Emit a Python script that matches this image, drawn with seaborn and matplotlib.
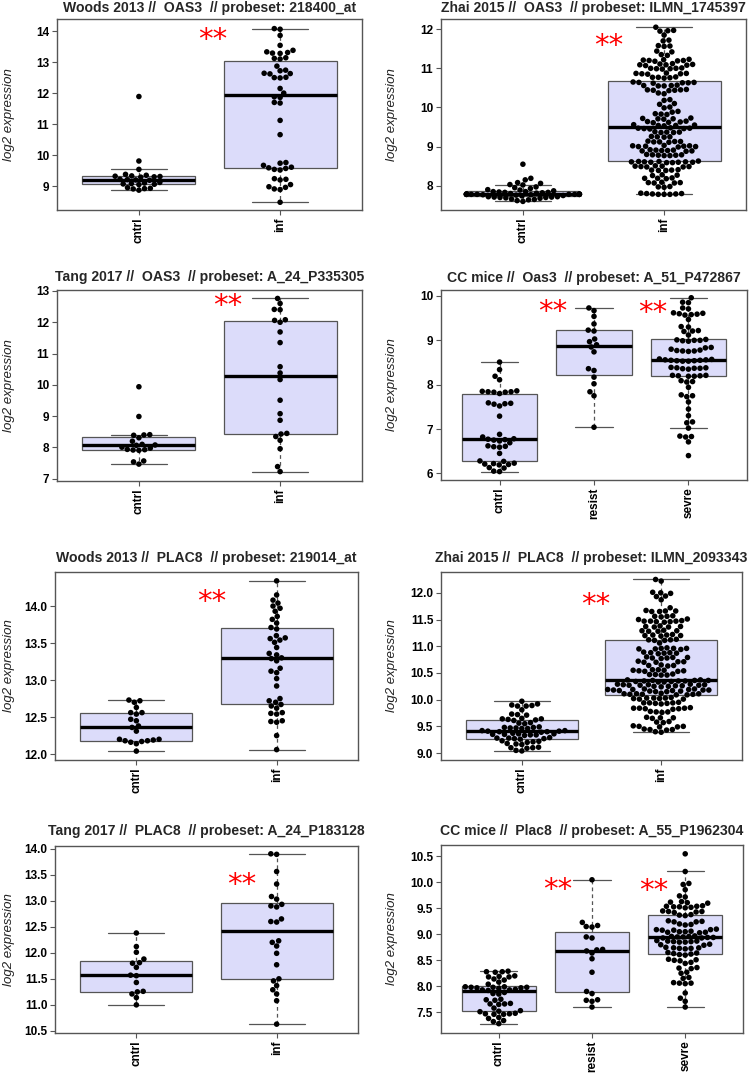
import pandas as pd
import seaborn as sns
import matplotlib.pyplot as plt

# ---- data (log2 expression) ----
woods_oas3_cntrl = [11.89, 9.81, 9.54, 9.38, 9.35, 9.33, 9.32, 9.31, 9.30, 9.29, 9.22, 9.21, 9.20,
                    9.19, 9.12, 9.10, 9.08, 9.07, 9.06, 9.05, 8.95, 8.93, 8.92, 8.91, 8.87]
woods_oas3_inf = [14.08, 14.06, 13.86, 13.54, 13.38, 13.33, 13.31, 13.29, 13.28, 13.14, 13.12, 13.10,
                  12.87, 12.74, 12.72, 12.64, 12.63, 12.62, 12.51, 12.50, 12.49, 12.15, 12.00, 11.88,
                  11.86, 11.70, 11.68, 11.12, 10.66, 9.76, 9.74, 9.67, 9.61, 9.59, 9.57, 9.54, 9.52,
                  9.24, 9.22, 9.20, 9.05, 8.98, 8.96, 8.91, 8.89, 8.48]

zhai_oas3_cntrl = [8.55, 8.19, 8.15, 8.08, 8.06, 8.03, 8.02, 7.97, 7.95, 7.93, 7.90, 7.89, 7.87,
                   7.85, 7.85, 7.84, 7.83, 7.83, 7.82, 7.81, 7.80, 7.79, 7.79,
                   7.78, 7.78, 7.78, 7.78, 7.78, 7.78, 7.78, 7.78, 7.78, 7.78,
                   7.77, 7.77, 7.76, 7.75, 7.74,
                   7.72, 7.72, 7.71, 7.71, 7.70, 7.70, 7.69, 7.68, 7.66, 7.65, 7.64, 7.62, 7.60]
zhai_oas3_inf = [12.05, 11.97, 11.96, 11.95, 11.85, 11.72, 11.70, 11.58, 11.57, 11.56, 11.44, 11.42,
                 11.35, 11.33,
                 11.23, 11.22, 11.21, 11.20, 11.20, 11.19, 11.18,
                 11.12, 11.11, 11.10, 11.09, 11.09, 11.08, 11.07,
                 11.01, 11.00, 11.00, 10.99, 10.99, 10.98,
                 10.88, 10.87, 10.87, 10.86, 10.86, 10.85,
                 10.78, 10.77, 10.77, 10.76, 10.75,
                 10.65, 10.64, 10.64, 10.63, 10.63, 10.62,
                 10.57, 10.56, 10.56, 10.55, 10.55,
                 10.46, 10.45, 10.45, 10.44, 10.44, 10.43,
                 10.37, 10.35, 10.20, 10.18,
                 10.10, 10.08, 10.01, 9.99,
                 9.90, 9.88, 9.84, 9.83, 9.82,
                 9.73, 9.72, 9.71, 9.71, 9.70,
                 9.65, 9.64, 9.63, 9.62, 9.61,
                 9.56, 9.55, 9.54, 9.54, 9.53,
                 9.48, 9.47, 9.47, 9.46, 9.46, 9.45,
                 9.38, 9.37, 9.37, 9.36, 9.36,
                 9.26, 9.25, 9.25, 9.24,
                 9.14, 9.13, 9.13, 9.12, 9.12, 9.11,
                 9.03, 9.02, 9.02, 9.01, 9.01, 9.00, 9.00, 8.99,
                 8.92, 8.91, 8.91, 8.90, 8.90, 8.89, 8.89, 8.88,
                 8.80, 8.79, 8.79, 8.78, 8.78, 8.77, 8.77,
                 8.63, 8.62, 8.62, 8.61, 8.61, 8.61, 8.60, 8.60, 8.60, 8.59, 8.59,
                 8.51, 8.50, 8.50, 8.49, 8.49, 8.48, 8.48,
                 8.41, 8.40, 8.40, 8.39, 8.39,
                 8.28, 8.27, 8.26, 8.20, 8.19, 8.19, 8.18,
                 8.09, 8.08, 8.08, 8.07, 8.07, 7.98, 7.97, 7.96,
                 7.81, 7.80, 7.80, 7.79, 7.79, 7.78, 7.78, 7.78]

tang_oas3_cntrl = [9.94, 8.99, 8.41, 8.40, 8.39, 8.31, 8.20, 8.10, 8.08, 8.07, 8.01, 7.98, 7.94,
                   7.93, 7.92, 7.91, 7.57, 7.54, 7.47]
tang_oas3_inf = [12.76, 12.60, 12.41, 12.40, 12.08, 12.06, 12.00, 11.69, 11.35, 10.58, 10.38, 10.17,
                 9.51, 9.08, 8.87, 8.45, 8.43, 8.35, 8.23, 7.96, 7.39, 7.23]

cc_oas3_cntrl = [8.51, 8.34, 8.19, 8.11, 7.86, 7.85, 7.84, 7.84, 7.83, 7.83, 7.80, 7.59, 7.58, 7.57,
                 7.56, 7.52, 7.29, 6.88, 6.82, 6.78, 6.77, 6.76, 6.75, 6.73, 6.69, 6.62, 6.61, 6.60,
                 6.59, 6.45, 6.28, 6.27, 6.23, 6.22, 6.21, 6.20, 6.19, 6.13, 6.12, 6.05, 6.04]
cc_oas3_resist = [9.73, 9.67, 9.54, 9.37, 9.23, 9.21, 9.03, 8.97, 8.90, 8.85, 8.74, 8.36, 8.32, 8.17,
                  8.02, 7.84, 7.75, 7.04]
cc_oas3_sevre = [9.96, 9.86, 9.85, 9.73, 9.71, 9.62, 9.61, 9.60, 9.59, 9.58, 9.57, 9.47, 9.31, 9.30,
                 9.22, 9.21, 9.20, 9.12, 9.02, 9.01, 9.00, 9.00, 8.99, 8.98,
                 8.84, 8.83, 8.80, 8.78, 8.77, 8.76, 8.76, 8.75,
                 8.58, 8.57, 8.56, 8.56, 8.55, 8.55, 8.54, 8.54, 8.53, 8.53,
                 8.39, 8.38, 8.38, 8.37, 8.37, 8.36, 8.35,
                 8.21, 8.21, 8.20, 8.20, 8.19, 8.19, 8.09, 8.07, 8.06, 7.94,
                 7.77, 7.75, 7.73, 7.61, 7.45, 7.30, 7.16, 7.14, 7.02,
                 6.84, 6.83, 6.82, 6.71, 6.40]

woods_plac8_cntrl = [12.73, 12.72, 12.70, 12.63, 12.56, 12.56, 12.54, 12.47, 12.45, 12.38, 12.36,
                     12.31, 12.20, 12.20, 12.19, 12.18, 12.18, 12.17, 12.16, 12.14, 12.04]
woods_plac8_inf = [14.34, 14.15, 14.08, 14.04, 14.00, 13.97, 13.93, 13.86, 13.82, 13.77, 13.71, 13.69,
                   13.60, 13.57, 13.56, 13.54, 13.51, 13.44, 13.36, 13.34, 13.30, 13.29, 13.26, 13.16,
                   13.12, 13.10, 13.02, 12.92, 12.75, 12.72, 12.70, 12.67, 12.65, 12.62, 12.56, 12.55,
                   12.54, 12.45, 12.44, 12.43, 12.25, 12.06]

zhai_plac8_cntrl = [9.97, 9.92, 9.90, 9.89, 9.88, 9.88, 9.81, 9.73, 9.72, 9.71, 9.65, 9.64, 9.64, 9.63,
                    9.62, 9.61, 9.57, 9.56, 9.55,
                    9.49, 9.48, 9.48, 9.47, 9.47, 9.46, 9.46,
                    9.42, 9.42, 9.41, 9.41, 9.40, 9.40, 9.39,
                    9.37, 9.36, 9.36, 9.35, 9.35, 9.34, 9.34, 9.33,
                    9.29, 9.28, 9.28, 9.27, 9.27, 9.26,
                    9.23, 9.22, 9.21, 9.20, 9.18, 9.17, 9.16,
                    9.11, 9.10, 9.10, 9.09, 9.05, 9.04]
zhai_plac8_inf = [12.25, 12.22, 12.01, 12.00, 11.99, 11.94, 11.93, 11.87, 11.72,
                  11.67, 11.66, 11.66, 11.65, 11.65, 11.57, 11.56, 11.56, 11.55, 11.51, 11.50,
                  11.48, 11.47, 11.47, 11.47, 11.46, 11.46, 11.45,
                  11.38, 11.37, 11.37, 11.36, 11.36,
                  11.30, 11.29, 11.29, 11.28, 11.28,
                  11.22, 11.21, 11.21, 11.20, 11.20, 11.19,
                  11.13, 11.12, 11.12, 11.11, 11.11, 11.06,
                  10.97, 10.96, 10.96, 10.96, 10.95, 10.95, 10.94,
                  10.89, 10.88, 10.88, 10.87, 10.87, 10.86,
                  10.80, 10.79, 10.79, 10.78, 10.78, 10.77,
                  10.72, 10.71, 10.71, 10.70, 10.70,
                  10.65, 10.64, 10.64, 10.63,
                  10.56, 10.56, 10.55, 10.55, 10.54, 10.54, 10.53, 10.53,
                  10.48, 10.47, 10.47, 10.46, 10.46,
                  10.37, 10.37, 10.36, 10.36, 10.36, 10.35, 10.35, 10.35, 10.34, 10.34, 10.33, 10.33,
                  10.29, 10.29, 10.28, 10.28, 10.28, 10.27, 10.27, 10.27, 10.26, 10.26, 10.25, 10.25,
                  10.24,
                  10.20, 10.20, 10.19, 10.19, 10.19, 10.18, 10.18, 10.18, 10.17, 10.17, 10.16, 10.16,
                  10.15, 10.15,
                  10.12, 10.11, 10.11, 10.11, 10.10, 10.10, 10.10, 10.09, 10.09,
                  10.04, 10.03, 10.03, 10.03, 10.02, 10.02, 10.01, 10.01,
                  9.95, 9.94, 9.94, 9.94, 9.93, 9.93, 9.92,
                  9.85, 9.84, 9.84, 9.84, 9.83, 9.83, 9.82,
                  9.78, 9.77, 9.77, 9.76, 9.67, 9.66, 9.66, 9.65,
                  9.59, 9.58, 9.57, 9.51, 9.50, 9.50, 9.49, 9.49,
                  9.45, 9.44, 9.44, 9.43, 9.40, 9.39]

tang_plac8_cntrl = [12.38, 12.12, 12.01, 11.88, 11.81, 11.80, 11.72, 11.57, 11.56, 11.43, 11.26,
                    11.25, 11.21, 11.14, 11.00]
tang_plac8_inf = [13.90, 13.89, 13.56, 13.32, 13.08, 13.03, 12.93, 12.90, 12.88, 12.65, 12.60, 12.59,
                  12.23, 12.20, 12.13, 11.99, 11.77, 11.50, 11.46, 11.37, 11.29, 11.21, 11.08, 10.63]

cc_plac8_cntrl = [8.29, 8.28, 8.28, 8.27, 8.20, 8.19, 8.18, 8.18, 8.14, 8.12, 8.08, 8.04,
                  7.99, 7.99, 7.98, 7.98, 7.98, 7.97, 7.97, 7.96, 7.94, 7.93, 7.93, 7.92,
                  7.88, 7.86, 7.85, 7.75, 7.74, 7.73, 7.67, 7.66, 7.66, 7.65, 7.58,
                  7.53, 7.52, 7.51, 7.48, 7.47, 7.47, 7.46, 7.46, 7.40, 7.38, 7.34, 7.32, 7.28]
cc_plac8_resist = [10.05, 9.23, 9.17, 9.15, 9.14, 8.95, 8.93, 8.71, 8.70, 8.68, 8.64, 8.53, 8.27,
                   7.90, 7.86, 7.74, 7.73, 7.71, 7.60]
cc_plac8_sevre = [10.55, 10.21, 9.98, 9.96, 9.86, 9.74, 9.72, 9.63, 9.62, 9.61, 9.60,
                  9.55, 9.54, 9.54, 9.53, 9.53, 9.52, 9.51, 9.45, 9.44, 9.44, 9.43, 9.42,
                  9.38, 9.37, 9.36, 9.26, 9.25, 9.24, 9.24, 9.20, 9.19, 9.18,
                  9.10, 9.09, 9.09, 9.08, 9.08, 9.06, 9.05, 9.05, 9.04, 9.04, 9.03,
                  8.97, 8.96, 8.96, 8.95, 8.95, 8.94, 8.94, 8.93, 8.93,
                  8.88, 8.87, 8.87, 8.86, 8.86, 8.85, 8.85, 8.81, 8.80, 8.79,
                  8.75, 8.74, 8.74, 8.73, 8.73, 8.72, 8.65, 8.64, 8.63, 8.62, 8.61, 8.60,
                  8.52, 8.51, 8.50, 8.49, 8.46, 8.44, 8.36, 8.35, 8.34, 8.27, 8.25,
                  8.17, 8.15, 8.07, 8.06, 8.06, 8.05, 7.87, 7.77, 7.71, 7.60]

two_groups = ["cntrl", "inf"]
three_groups = ["cntrl", "resist", "sevre"]

titles = [
    "Woods 2013 //  OAS3  // probeset: 218400_at",
    "Zhai 2015 //  OAS3  // probeset: ILMN_1745397",
    "Tang 2017 //  OAS3  // probeset: A_24_P335305",
    "CC mice //  Oas3  // probeset: A_51_P472867",
    "Woods 2013 //  PLAC8  // probeset: 219014_at",
    "Zhai 2015 //  PLAC8  // probeset: ILMN_2093343",
    "Tang 2017 //  PLAC8  // probeset: A_24_P183128",
    "CC mice //  Plac8  // probeset: A_55_P1962304",
]
panel_values = [
    [woods_oas3_cntrl, woods_oas3_inf],
    [zhai_oas3_cntrl, zhai_oas3_inf],
    [tang_oas3_cntrl, tang_oas3_inf],
    [cc_oas3_cntrl, cc_oas3_resist, cc_oas3_sevre],
    [woods_plac8_cntrl, woods_plac8_inf],
    [zhai_plac8_cntrl, zhai_plac8_inf],
    [tang_plac8_cntrl, tang_plac8_inf],
    [cc_plac8_cntrl, cc_plac8_resist, cc_plac8_sevre],
]
panel_groups = [two_groups, two_groups, two_groups, three_groups,
                two_groups, two_groups, two_groups, three_groups]
yticks = [
    [9, 10, 11, 12, 13, 14],
    [8, 9, 10, 11, 12],
    [7, 8, 9, 10, 11, 12, 13],
    [6, 7, 8, 9, 10],
    [12.0, 12.5, 13.0, 13.5, 14.0],
    [9.0, 9.5, 10.0, 10.5, 11.0, 11.5, 12.0],
    [10.5, 11.0, 11.5, 12.0, 12.5, 13.0, 13.5, 14.0],
    [7.5, 8.0, 8.5, 9.0, 9.5, 10.0, 10.5],
]

# ---- layout (pixels in a 750 x 1078 canvas) ----
W, H = 750, 1078
rects = [(57, 19, 362, 210), (441, 19, 746, 210),
         (57, 290, 362, 481), (441, 290, 747, 480),
         (55, 572, 358, 760), (441, 572, 742, 760),
         (55, 846, 358, 1033), (441, 845, 743, 1033)]
title_y = [8, 8, 277, 278, 558, 558, 831, 831]
ylims = [(8.23, 14.39), (7.38, 12.26), (6.93, 13.03), (5.85, 10.135),
         (11.92, 14.46), (8.87, 12.39), (10.46, 14.05), (7.10, 10.72)]
# red "**" markers: (x in category units, y in data units)
star_pos = [[(0.52, 13.72)], [(0.61, 11.57)], [(0.63, 12.52)],
            [(0.56, 9.64), (1.62, 9.62)],
            [(0.54, 14.06)], [(0.53, 11.77)], [(0.75, 13.31)],
            [(0.63, 9.86), (1.66, 9.83)]]

sns.set_style("ticks")
plt.rcParams["font.family"] = ["Liberation Sans", "DejaVu Sans"]

fig = plt.figure(figsize=(7.5, 10.78), dpi=100)

box_face = "#DCDCFA"
edge = "#555555"

for i in range(8):
    l, t, r, b = rects[i]
    ax = fig.add_axes([l / W, 1 - b / H, (r - l) / W, (b - t) / H])
    groups = panel_groups[i]
    df = pd.DataFrame({
        "group": [g for g, v in zip(groups, panel_values[i]) for _ in v],
        "value": [x for v in panel_values[i] for x in v],
    })
    sns.boxplot(data=df, x="group", y="value", order=groups, color=box_face, saturation=1,
                linecolor=edge, linewidth=0.9, width=0.8, showfliers=False, whis=1.5,
                medianprops=dict(color="black", linewidth=2.4),
                whiskerprops=dict(linestyle=(0, (3, 2.5))),
                ax=ax)
    sns.swarmplot(data=df, x="group", y="value", order=groups, color="black", size=4.0,
                  edgecolor="none", linewidth=0, warn_thresh=1, ax=ax)

    n = len(groups)
    ax.set_xlim(-0.5 - 0.04 * n, n - 0.5 + 0.04 * n)
    ax.set_ylim(*ylims[i])
    ax.set_yticks(yticks[i])
    if i >= 4:
        ax.set_yticklabels([f"{v:.1f}" for v in yticks[i]])
    else:
        ax.set_yticklabels([f"{v:g}" for v in yticks[i]])
    ax.set_xlabel("")
    ax.set_ylabel("log2 expression", fontsize=9.5, fontstyle="italic", color="#222222")
    ax.yaxis.set_label_coords((398 - 441) / (r - l) if l > 300 else (15 - l) / (r - l), 0.5)
    for lab in ax.get_xticklabels():
        lab.set_rotation(90)
        lab.set_fontweight("bold")
        lab.set_fontsize(8.5)
    for lab in ax.get_yticklabels():
        lab.set_fontweight("bold")
        lab.set_fontsize(8.5)
    ax.tick_params(axis="both", colors=edge, labelcolor="black", length=3.5, width=0.8, pad=2)
    for s in ax.spines.values():
        s.set_color(edge)
        s.set_linewidth(1)
    for x, y in star_pos[i]:
        ax.text(x, y, "**", color="red", fontsize=21, family="DejaVu Sans",
                ha="center", va="center")
    fig.text((l + r) / 2 / W, 1 - title_y[i] / H, titles[i], fontsize=10.1, fontweight="bold",
             ha="center", va="center")

fig.savefig("out.png", dpi=100)
